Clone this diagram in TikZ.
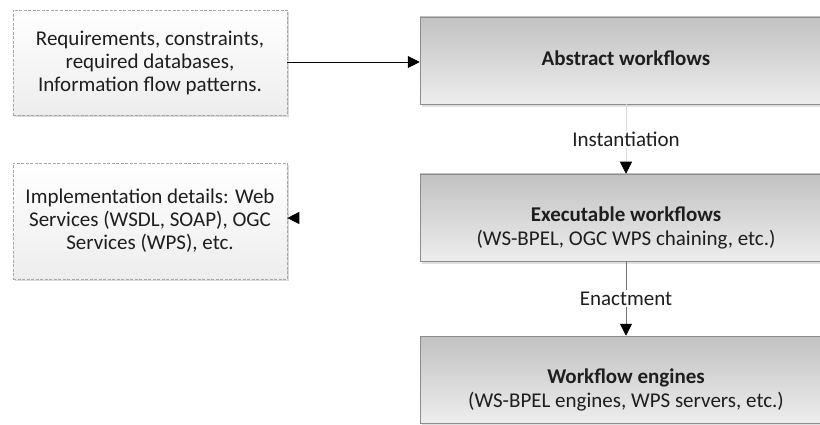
\documentclass[tikz,border=0pt]{standalone}
\usepackage{fontspec}
\setmainfont{Carlito}
\usetikzlibrary{arrows.meta,shadows}
\definecolor{ink}{HTML}{1E1E1E}
\definecolor{edgegray}{HTML}{A8A8A8}
\definecolor{stagetop}{HTML}{C2C2C2}
\definecolor{stagebot}{HTML}{EDEDED}
\tikzset{
  notebox/.style={draw=edgegray, dashed, dash pattern=on 3pt off 1.5pt, line width=0.6pt,
    top color=white, bottom color=black!7, minimum width=274pt, minimum height=105pt,
    align=center, text=ink, font=\fontsize{21}{23}\selectfont, inner sep=2pt,
    drop shadow={shadow xshift=2pt, shadow yshift=-2pt, fill=black!25, opacity=0.6}},
  stagebox/.style={draw=black!45, line width=0.5pt, top color=stagetop, bottom color=stagebot,
    minimum width=412pt, minimum height=87pt,
    drop shadow={shadow xshift=2pt, shadow yshift=-3pt, fill=black!20, opacity=0.6}},
  stagetext/.style={align=center, text=ink, font=\fontsize{21}{24}\selectfont, inner sep=0pt},
  flow/.style={line width=0.8pt, -{Triangle[length=12pt,width=12pt,black]}},
  steplabel/.style={fill=white, text=ink, font=\fontsize{21}{23}\selectfont, inner sep=2pt}
}
\begin{document}
\begin{tikzpicture}[x=1pt,y=-1pt]
  \useasboundingbox (0,0) rectangle (820,425);
  \clip (0,0) rectangle (820,425);

  % left-hand notes
  \node[notebox] (req) at (150,62.5)
    {Requirements, constraints,\\required databases,\\Information flow patterns.};
  \node[notebox, minimum height=116pt] (impl) at (150,221)
    {Implementation details: Web\\Services (WSDL, SOAP), OGC\\Services (WPS), etc.};

  % workflow stages
  \node[stagebox] (abs) at (626,60.5) {};
  \node[stagebox] (exe) at (626,217.5) {};
  \node[stagebox] (eng) at (626,379.5) {};
  \node[stagetext] (absText) at ([yshift=2pt]abs.center) {\textbf{Abstract workflows}};
  \node[stagetext] (exeText) at ([yshift=-10pt]exe.center)
    {\textbf{Executable workflows}\\(WS-BPEL, OGC WPS chaining, etc.)};
  \node[stagetext] (engText) at ([yshift=-10pt]eng.center)
    {\textbf{Workflow engines}\\(WS-BPEL engines, WPS servers, etc.)};

  % connectors
  \draw[flow, draw=black] (req.east |- 0,62) -- (abs.west |- 0,62);
  \draw[flow, draw=white] (exe.west |- 0,218) -- (impl.east |- 0,218);
  \draw[flow, draw=black!15] (abs.south) -- node[steplabel] (inst) {Instantiation} (exe.north);
  \draw[flow, draw=black!55] (exe.south) -- node[steplabel] (enact) {Enactment} (eng.north);
\end{tikzpicture}
\end{document}
